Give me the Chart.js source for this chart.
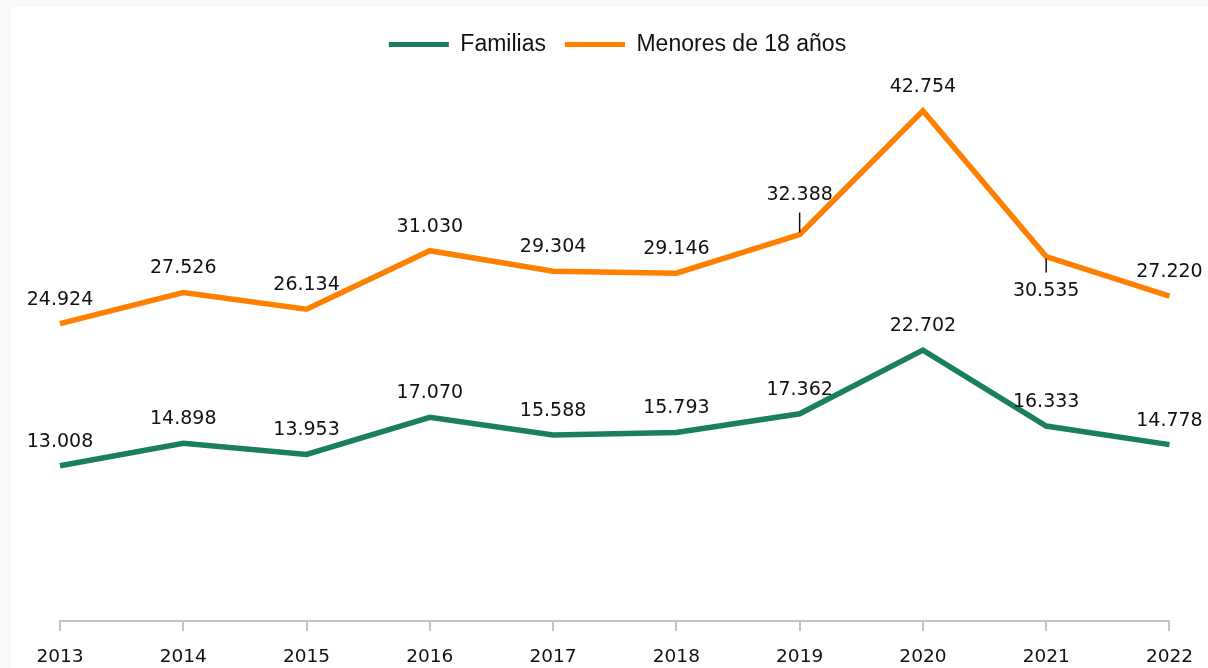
<!DOCTYPE html>
<html>
<head>
<meta charset="utf-8">
<script src="https://cdn.jsdelivr.net/npm/chart.js@4.4.1/dist/chart.umd.min.js"></script>
<style>
  html, body { margin: 0; padding: 0; background: #f9f9f9; }
  #wrap { position: absolute; left: 11px; top: 7px; width: 1197px; height: 661px; background: #fff; }
</style>
</head>
<body>
<div id="wrap"><canvas id="chart"></canvas></div>
<script>
const years = ['2013', '2014', '2015', '2016', '2017', '2018', '2019', '2020', '2021', '2022'];
const familias = [13008, 14898, 13953, 17070, 15588, 15793, 17362, 22702, 16333, 14778];
const menores = [24924, 27526, 26134, 31030, 29304, 29146, 32388, 42754, 30535, 27220];

const green = '#1b7f5f';
const orange = '#ff8000';
const textColor = '#121212';

// label gap above the point, and the few labels that sit elsewhere with a leader line
const labelGap = 24;
const specialLabels = {
    1: {
        6: { dy: -39, leader: [-2, -22] },
        8: { dy: 34, leader: [2, 16] }
    }
};

function fmt(v) {
    return String(v).replace(/\B(?=(\d{3})+(?!\d))/g, '.');
}

const valueLabels = {
    id: 'valueLabels',
    afterDatasetsDraw(chart) {
        const ctx = chart.ctx;
        ctx.save();
        ctx.font = '19px "DejaVu Sans"';
        ctx.fillStyle = textColor;
        ctx.strokeStyle = textColor;
        ctx.lineWidth = 1.5;
        ctx.textAlign = 'center';
        ctx.textBaseline = 'middle';
        chart.data.datasets.forEach((ds, di) => {
            const meta = chart.getDatasetMeta(di);
            meta.data.forEach((pt, i) => {
                const sp = specialLabels[di] && specialLabels[di][i];
                const dy = sp ? sp.dy : -labelGap;
                if (sp && sp.leader) {
                    ctx.beginPath();
                    ctx.moveTo(pt.x, pt.y + sp.leader[0]);
                    ctx.lineTo(pt.x, pt.y + sp.leader[1]);
                    ctx.stroke();
                }
                ctx.fillText(fmt(ds.data[i]), pt.x, pt.y + dy);
            });
        });
        ctx.restore();
    }
};

const legendMargin = {
    id: 'legendMargin',
    beforeInit(chart) {
        const fit = chart.legend.fit;
        chart.legend.fit = function () {
            fit.bind(chart.legend)();
            this.height += 18;
        };
    }
};

const ctx = document.getElementById('chart').getContext('2d');
new Chart(ctx, {
    type: 'line',
    data: {
        labels: years,
        datasets: [{
            label: 'Familias',
            data: familias,
            borderColor: green,
            backgroundColor: green,
            borderWidth: 5.5,
            pointRadius: 0,
            tension: 0
        }, {
            label: 'Menores de 18 años',
            data: menores,
            borderColor: orange,
            backgroundColor: orange,
            borderWidth: 5.5,
            pointRadius: 0,
            tension: 0
        }]
    },
    options: {
        responsive: true,
        maintainAspectRatio: false,
        animation: false,
        layout: { padding: { left: 49, right: 33, top: 7, bottom: 0 } },
        plugins: {
            tooltip: { enabled: false },
            legend: {
                position: 'top',
                labels: {
                    boxWidth: 60,
                    boxHeight: 5,
                    padding: 19,
                    color: textColor,
                    font: { family: '"Liberation Sans"', size: 23 },
                    generateLabels(chart) {
                        return Chart.defaults.plugins.legend.labels.generateLabels(chart)
                            .map(l => ({ ...l, lineWidth: 0 }));
                    }
                }
            }
        },
        scales: {
            x: {
                offset: false,
                afterFit(scale) { scale.height = 47; },
                grid: {
                    drawOnChartArea: false,
                    tickLength: 10,
                    color: '#c4c4c4',
                    lineWidth: 2
                },
                border: { color: '#c4c4c4', width: 2 },
                ticks: {
                    color: textColor,
                    font: { family: '"DejaVu Sans"', size: 18.5 },
                    padding: 15,
                    maxRotation: 0,
                    autoSkip: false
                }
            },
            y: {
                display: false,
                min: 0,
                max: 45000
            }
        }
    },
    plugins: [valueLabels, legendMargin]
});
</script>
</body>
</html>
